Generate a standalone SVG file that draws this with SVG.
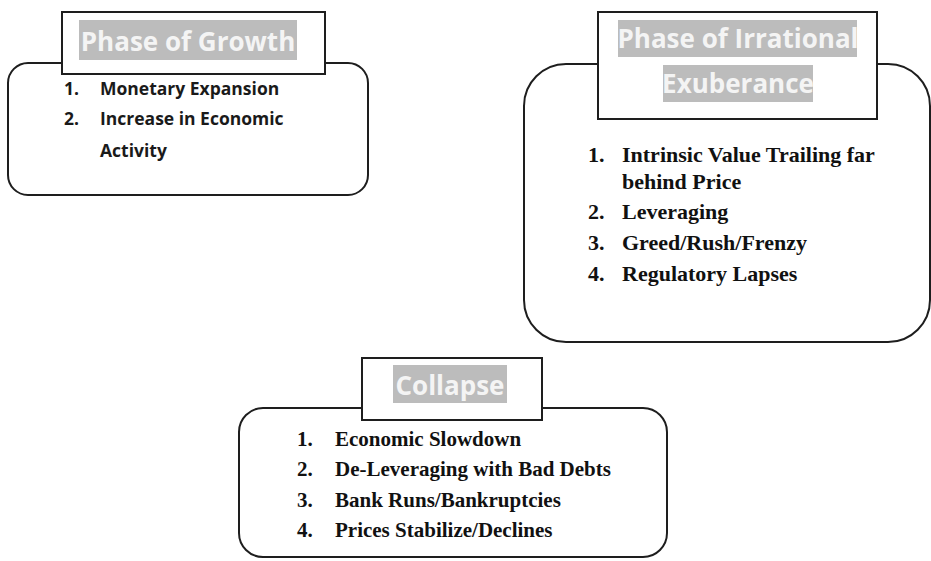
<svg xmlns="http://www.w3.org/2000/svg" width="931" height="561" viewBox="0 0 931 561">
<defs>
<style>
.box{fill:#fff;stroke:#1e1e1e;stroke-width:2}
.hdr{fill:#fff;stroke:#1e1e1e;stroke-width:2}
.lbl{fill:#bcbcbc}
.ttl{font-family:"Open Sans","DejaVu Sans",sans-serif;font-weight:700;fill:#f4f4f4;text-anchor:middle;font-size:26px}
.cal{font-family:"Open Sans","DejaVu Sans",sans-serif;font-weight:700;font-size:17.5px;fill:#1a1a1a}
.tnr{font-family:"Liberation Serif","Times New Roman",serif;font-weight:700;fill:#111}
</style>
</defs>
<rect width="931" height="561" fill="#fff"/>
<g id="growth">
<rect class="box" x="8" y="63" width="360" height="132" rx="20" ry="20"/>
<rect class="hdr" x="62" y="12" width="263" height="62"/>
<rect class="lbl" x="79" y="20" width="218" height="40"/>
<text class="ttl" x="188" y="51">Phase of Growth</text>
<text class="cal" x="64" y="95">1.</text>
<text class="cal" x="100" y="95">Monetary Expansion</text>
<text class="cal" x="64" y="125">2.</text>
<text class="cal" x="100" y="125">Increase in Economic</text>
<text class="cal" x="100" y="157">Activity</text>
</g>
<g id="irrational">
<rect class="box" x="524" y="64" width="406" height="278" rx="42" ry="42"/>
<rect class="hdr" x="598" y="12" width="279" height="107"/>
<rect class="lbl" x="618" y="20" width="239" height="37"/>
<rect class="lbl" x="663" y="65" width="150" height="37"/>
<text class="ttl" x="738" y="48">Phase of Irrational</text>
<text class="ttl" x="738" y="93">Exuberance</text>
<text class="tnr" font-size="22" x="588" y="162">1.</text>
<text class="tnr" font-size="22" x="622" y="162">Intrinsic Value Trailing far</text>
<text class="tnr" font-size="22" x="622" y="189">behind Price</text>
<text class="tnr" font-size="22" x="588" y="219">2.</text>
<text class="tnr" font-size="22" x="622" y="219">Leveraging</text>
<text class="tnr" font-size="22" x="588" y="250">3.</text>
<text class="tnr" font-size="22" x="622" y="250">Greed/Rush/Frenzy</text>
<text class="tnr" font-size="22" x="588" y="281">4.</text>
<text class="tnr" font-size="22" x="622" y="281">Regulatory Lapses</text>
</g>
<g id="collapse">
<rect class="box" x="239" y="408" width="428" height="149" rx="24" ry="24"/>
<rect class="hdr" x="362" y="358" width="180" height="62"/>
<rect class="lbl" x="393" y="365" width="114" height="38"/>
<text class="ttl" x="450" y="395">Collapse</text>
<text class="tnr" font-size="21" x="297" y="446">1.</text>
<text class="tnr" font-size="21" x="335" y="446">Economic Slowdown</text>
<text class="tnr" font-size="21" x="297" y="476">2.</text>
<text class="tnr" font-size="21" x="335" y="476">De-Leveraging with Bad Debts</text>
<text class="tnr" font-size="21" x="297" y="507">3.</text>
<text class="tnr" font-size="21" x="335" y="507">Bank Runs/Bankruptcies</text>
<text class="tnr" font-size="21" x="297" y="537">4.</text>
<text class="tnr" font-size="21" x="335" y="537">Prices Stabilize/Declines</text>
</g>
<g id="connectors"></g>
</svg>
